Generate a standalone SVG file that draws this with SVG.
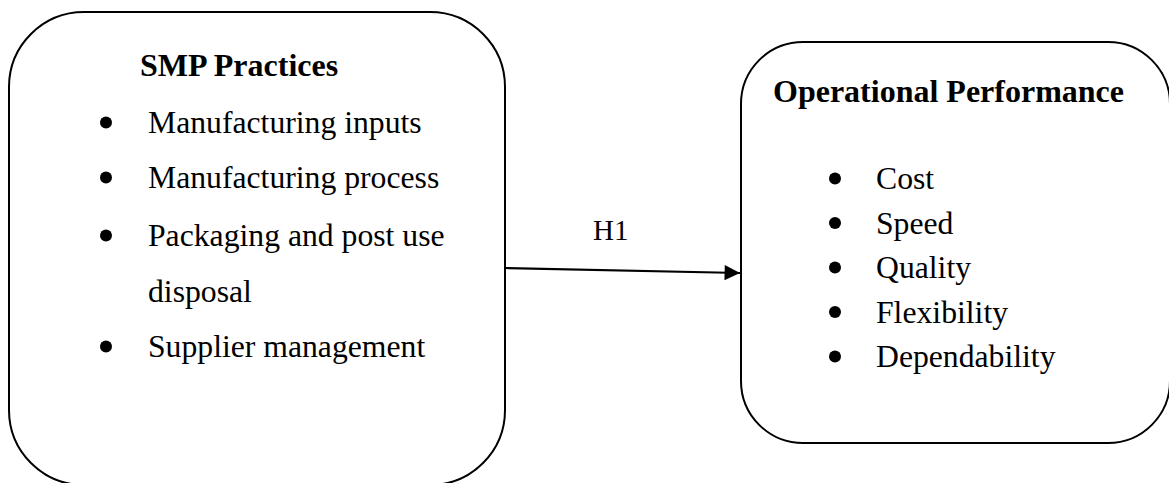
<svg xmlns="http://www.w3.org/2000/svg" width="1169" height="483" viewBox="0 0 1169 483">
  <defs>
    <style>
      .box { fill: #fff; stroke: #000; stroke-width: 2; }
      .head { font-family: "Liberation Serif", "Times New Roman", serif; font-weight: bold; font-size: 32px; fill: #000; }
      .item { font-family: "Liberation Serif", "Times New Roman", serif; font-size: 31.7px; fill: #000; }
      .label { font-family: "Liberation Serif", "Times New Roman", serif; font-size: 29px; fill: #000; }
      .dot { fill: #000; }
      .link { stroke: #000; stroke-width: 2.2; fill: none; }
    </style>
    <marker id="arrow" viewBox="0 0 10 10" refX="10" refY="5" markerWidth="9" markerHeight="7" markerUnits="strokeWidth" orient="auto">
      <path d="M0,0 L10,5 L0,10 Z" fill="#000"/>
    </marker>
  </defs>
  <rect width="1169" height="483" fill="#fff"/>

  <!-- SMP practices -->
  <g id="smp-practices">
    <rect class="box" x="9" y="12" width="496" height="473" rx="75" ry="75"/>
    <text class="head" x="140" y="76">SMP Practices</text>
    <circle class="dot" cx="106" cy="122.5" r="6"/>
    <text class="item" x="148" y="133">Manufacturing inputs</text>
    <circle class="dot" cx="106" cy="177.5" r="6"/>
    <text class="item" x="148" y="188">Manufacturing process</text>
    <circle class="dot" cx="106" cy="235.5" r="6"/>
    <text class="item" x="148" y="246">Packaging and post use</text>
    <text class="item" x="148" y="302">disposal</text>
    <circle class="dot" cx="106" cy="346.5" r="6"/>
    <text class="item" x="148" y="357">Supplier management</text>
  </g>

  <!-- Operational performance -->
  <g id="operational-performance">
    <rect class="box" x="741" y="42" width="429" height="401" rx="62" ry="62"/>
    <text class="head" x="773" y="102">Operational Performance</text>
    <circle class="dot" cx="835" cy="178.5" r="6"/>
    <text class="item" x="876" y="189">Cost</text>
    <circle class="dot" cx="835" cy="223" r="6"/>
    <text class="item" x="876" y="233.5">Speed</text>
    <circle class="dot" cx="835" cy="267.5" r="6"/>
    <text class="item" x="876" y="278">Quality</text>
    <circle class="dot" cx="835" cy="312" r="6"/>
    <text class="item" x="876" y="322.5">Flexibility</text>
    <circle class="dot" cx="835" cy="356.5" r="6"/>
    <text class="item" x="876" y="367">Dependability</text>
  </g>

  <!-- connectors -->
  <g id="connectors">
    <line class="link" x1="505" y1="268" x2="740" y2="273" marker-end="url(#arrow)"/>
    <text class="label" x="593" y="240">H1</text>
  </g>
</svg>
